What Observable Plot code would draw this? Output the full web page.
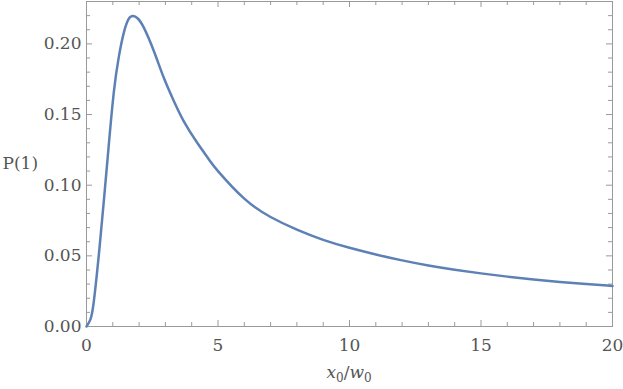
<!DOCTYPE html>
<html><head><meta charset="utf-8">
<script src="https://cdn.jsdelivr.net/npm/d3@7"></script>
<script src="https://cdn.jsdelivr.net/npm/@observablehq/plot@0.6"></script>
<style>
html,body{margin:0;padding:0;background:#fff}
</style>
</head><body><div id="chart"></div>
<script>
// ---- data ----
const xValues = [0, 0.15, 0.28, 0.47, 0.66, 0.85, 1.04, 1.23, 1.42, 1.6, 1.77, 1.95, 2.18, 2.56, 2.94, 3.32, 3.7, 4.21, 4.65, 5, 6, 7, 8, 9, 10, 11, 12, 13, 14, 15, 16, 17, 18, 19, 20];
const yValues = [0, 0.005, 0.018, 0.051, 0.089, 0.129, 0.166, 0.191, 0.208, 0.2175, 0.2197, 0.218, 0.2115, 0.195, 0.176, 0.1596, 0.1452, 0.1300, 0.1184, 0.1100, 0.0905, 0.0775, 0.0685, 0.0613, 0.0557, 0.0510, 0.0468, 0.0432, 0.0402, 0.0376, 0.0353, 0.0333, 0.0315, 0.0300, 0.0287];
const xMajorTicks = [0, 5, 10, 15, 20];
const xMinorTicks = [1, 2, 3, 4, 6, 7, 8, 9, 11, 12, 13, 14, 16, 17, 18, 19];
const yMajorTicks = [0, 0.05, 0.10, 0.15, 0.20];
const yMinorTicks = [0.01, 0.02, 0.03, 0.04, 0.06, 0.07, 0.08, 0.09, 0.11, 0.12, 0.13, 0.14, 0.16, 0.17, 0.18, 0.19, 0.21, 0.22];
const xLabelParts = [["x", "i"], ["0", "sub"], ["/", "n"], ["w", "i"], ["0", "sub"]];
const yLabel = "P(1)";

const data = xValues.map((x, i) => ({x, y: yValues[i]}));

const W = 623, H = 389, mL = 86, mR = 11, mT = 1, mB = 63;
const pw = W - mL - mR, ph = H - mT - mB;
const gray = "#9a9a9a", textCol = "#555", lineCol = "#5E81B5";
const majorLen = 6, minorLen = 4;
const font = '"DejaVu Serif", serif';
const fs = 17;

const tickMarks = (vals, len) => [
  Plot.ruleX(vals, {x: d => d, stroke: gray, insetTop: ph - len}),
  Plot.ruleX(vals, {x: d => d, stroke: gray, insetBottom: ph - len}),
];
const tickMarksY = (vals, len) => [
  Plot.ruleY(vals, {y: d => d, stroke: gray, insetRight: pw - len}),
  Plot.ruleY(vals, {y: d => d, stroke: gray, insetLeft: pw - len}),
];

const plot = Plot.plot({
  width: W, height: H,
  marginLeft: mL, marginRight: mR, marginTop: mT, marginBottom: mB,
  style: {fontFamily: font, fontSize: fs + "px", color: textCol, background: "#fff", overflow: "visible"},
  x: {domain: [0, 20]},
  y: {domain: [0, 0.23]},
  marks: [
    Plot.frame({stroke: gray}),
    ...tickMarks(xMinorTicks, minorLen),
    ...tickMarks(xMajorTicks, majorLen),
    ...tickMarksY(yMinorTicks, minorLen),
    ...tickMarksY(yMajorTicks, majorLen),
    Plot.axisX(xMajorTicks, {tickSize: 0, tickPadding: 12, tickFormat: d => String(d), label: null, fontSize: fs}),
    Plot.axisY(yMajorTicks, {tickSize: 0, tickPadding: 5, tickFormat: d3.format(".2f"), label: null, fontSize: fs}),
    Plot.text([yLabel], {frameAnchor: "left", textAnchor: "start", dx: -mL + 2, fontSize: fs, fill: textCol}),
    Plot.line(data, {x: "x", y: "y", stroke: lineCol, strokeWidth: 2.5, curve: "natural"}),
  ]
});

// x-axis label with italics and subscripts
const svg = d3.select(plot);
const xs = plot.scale("x");
const lbl = svg.append("text")
  .attr("x", (xs.apply(0) + xs.apply(20)) / 2)
  .attr("y", H - 11)
  .attr("text-anchor", "middle")
  .attr("fill", textCol)
  .attr("font-family", font)
  .attr("font-size", fs);
let shifted = false;
for (const [t, kind] of xLabelParts) {
  const ts = lbl.append("tspan").text(t);
  if (kind === "i") ts.attr("font-style", "italic");
  if (kind === "sub") { ts.attr("font-size", 12).attr("dy", shifted ? 0 : 4); shifted = true; }
  else if (shifted) { ts.attr("dy", -4); shifted = false; }
}
document.getElementById("chart").appendChild(plot);
</script>
</body></html>
